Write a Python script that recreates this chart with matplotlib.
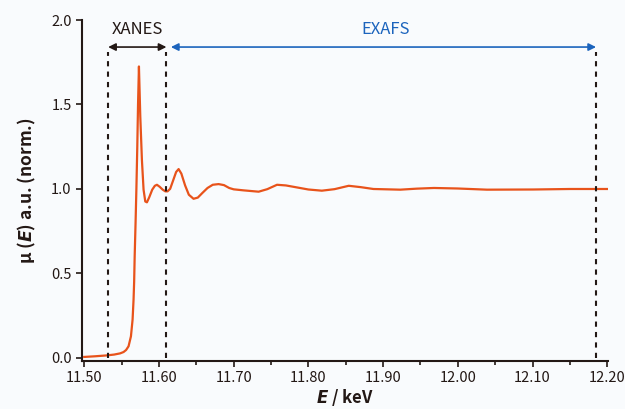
import numpy as np
import matplotlib.pyplot as plt

plt.rcParams['font.family'] = ['Noto Sans CJK SC', 'DejaVu Sans']

# absorption spectrum, energy in keV / normalised mu(E)
energy = [11.500, 11.515, 11.530, 11.540, 11.548, 11.5526, 11.556, 11.5593,
          11.5625, 11.5647, 11.566, 11.5668, 11.5675, 11.5687, 11.5698,
          11.5710, 11.5720, 11.5732,
          11.5750, 11.5772, 11.5794, 11.5817, 11.5839, 11.587, 11.591,
          11.5945, 11.5973, 11.601, 11.605, 11.6085, 11.6115, 11.615,
          11.619, 11.623, 11.6263, 11.630, 11.635, 11.640, 11.6463, 11.652,
          11.658, 11.665, 11.672, 11.6798, 11.687, 11.694, 11.700, 11.7044,
          11.713, 11.7334, 11.745, 11.758, 11.770, 11.785, 11.800, 11.818,
          11.835, 11.854, 11.870, 11.887, 11.923, 11.945, 11.968, 11.9995,
          12.039, 12.101, 12.150, 12.200]
mu = [0.004, 0.008, 0.013, 0.018, 0.025, 0.033, 0.045, 0.067,
      0.126, 0.225, 0.343, 0.450, 0.600, 0.800, 1.000,
      1.250, 1.500, 1.725,
      1.430, 1.170, 0.995, 0.925, 0.920, 0.950, 0.995,
      1.018, 1.024, 1.012, 0.995, 0.985, 0.985, 1.000,
      1.050, 1.100, 1.117, 1.090, 1.020, 0.965, 0.941, 0.948,
      0.975, 1.005, 1.024, 1.028, 1.022, 1.005, 0.997, 0.995,
      0.991, 0.983, 0.998, 1.024, 1.020, 1.008, 0.996, 0.989,
      0.998, 1.018, 1.010, 0.999, 0.995, 1.001, 1.005, 1.002,
      0.995, 0.996, 0.999, 0.999]

# region borders
xanes_start = 11.532
xanes_end = 11.610
exafs_start = 11.616
exafs_end = 12.185

orange = '#e8531b'
blue = '#1c64bd'
dark = '#231815'

fig = plt.figure(figsize=(6.25, 4.09), dpi=100, facecolor='#f9fbfd')
ax = fig.add_axes([0.1312, 0.1174, 0.8416, 0.8336])
ax.set_facecolor('none')

ax.plot(energy, mu, color=orange, lw=1.6, solid_joinstyle='round')

for x in (xanes_start, xanes_end, exafs_end):
    ax.plot([x, x], [0.0, 1.81], color=dark, lw=1.5, ls=(0, (2.5, 2.5)))

ax.annotate('', xy=(xanes_start, 1.84), xytext=(xanes_end, 1.84),
            arrowprops=dict(arrowstyle='<|-|>', color=dark, lw=1.2,
                            mutation_scale=11, shrinkA=0, shrinkB=0))
ax.annotate('', xy=(exafs_start, 1.84), xytext=(exafs_end, 1.84),
            arrowprops=dict(arrowstyle='<|-|>', color=blue, lw=1.2,
                            mutation_scale=11, shrinkA=0, shrinkB=0))
ax.text((xanes_start + xanes_end) / 2, 1.945, 'XANES', color=dark,
        fontsize=12, ha='center', va='center')
ax.text(11.903, 1.945, 'EXAFS', color=blue, fontsize=12,
        ha='center', va='center')

ax.set_xlim(11.497, 12.201)
ax.set_ylim(-0.02, 2.0)
ax.set_xticks(np.arange(11.50, 12.201, 0.10))
ax.set_xticks(np.arange(11.55, 12.20, 0.10), minor=True)
ax.set_xticklabels([f'{v:.2f}' for v in np.arange(11.50, 12.201, 0.10)])
ax.set_yticks([0.0, 0.5, 1.0, 1.5, 2.0])
ax.set_yticklabels(['0.0', '0.5', '1.0', '1.5', '2.0'])

for side in ('top', 'right'):
    ax.spines[side].set_visible(False)
for side in ('left', 'bottom'):
    ax.spines[side].set_color(dark)
    ax.spines[side].set_linewidth(1.5)
ax.tick_params(which='both', direction='out', color=dark, width=1.2,
               labelsize=10.5, labelcolor=dark)
ax.tick_params(which='major', length=4)
ax.tick_params(which='minor', length=3)

ax.set_xlabel(r'$\boldsymbol{E}$ / keV', fontsize=12, fontweight='bold',
              color=dark, labelpad=1)
ax.set_ylabel(r'μ ($\boldsymbol{E}$) a.u. (norm.)', fontsize=12.5,
              fontweight='bold', color=dark, labelpad=9)

fig.savefig('out.png', dpi=100, facecolor=fig.get_facecolor())
